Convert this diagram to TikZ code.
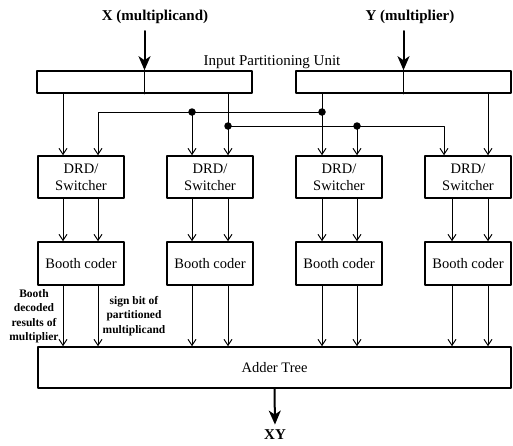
\documentclass[tikz,border=0pt]{standalone}
\usepackage{fontspec}
\setmainfont{Liberation Serif}
\usetikzlibrary{arrows.meta}
\begin{document}
\begin{tikzpicture}[x=1pt,y=-1pt,line cap=round,line join=round,
  blk/.style={draw,line width=1.6pt,inner sep=0pt,align=center,font=\fontsize{14.5}{17}\selectfont},
  conn/.style={line width=1pt,-{Straight Barb[length=6pt,width=8pt]}},
  wire/.style={line width=1pt},
  big/.style={line width=2pt,-{Stealth[length=14pt,width=12pt,inset=4pt]}},
  dot/.style={circle,fill,inner sep=0pt,minimum size=7.5pt},
  note/.style={align=center,font=\bfseries\fontsize{11.5}{14.5}\selectfont}]
  \useasboundingbox (0,0) rectangle (513,445);
  \node[font=\bfseries\fontsize{15}{18}\selectfont] (xin) at (155,17) {X (multiplicand)};
  \node[font=\bfseries\fontsize{15}{18}\selectfont] (yin) at (410,17) {Y (multiplier)};
  \node[font=\fontsize{15}{18}\selectfont] (ipu) at (272,62) {Input Partitioning Unit};
  \node[blk,minimum width=215pt,minimum height=22pt] (xreg) at (144.5,82) {};
  \node[blk,minimum width=215pt,minimum height=22pt] (yreg) at (403.5,82) {};
  \draw[wire] (xreg.north) -- (xreg.south);
  \draw[wire] (yreg.north) -- (yreg.south);
  \coordinate (xs) at (144.5,31);
  \coordinate (ys) at (403.5,31);
  \draw[big] (xs) -- (xreg.north);
  \draw[big] (ys) -- (yreg.north);
  \foreach \i/\cx/\xl/\xr in {1/81/63/98,2/210/192/228,3/339/322/357,4/468/452/488} {
    \node[blk,minimum width=86pt,minimum height=42pt] (drd\i) at (\cx,177) {DRD/\\Switcher};
    \node[blk,minimum width=86pt,minimum height=43pt] (booth\i) at (\cx,263.5) {Booth coder};
    \coordinate (cl\i) at (\xl,0);
    \coordinate (cr\i) at (\xr,0);
  }
  \node[blk,minimum width=473pt,minimum height=41pt] (adder) at (274.5,367.5) {Adder Tree};
  \foreach \i in {1,2,3,4} {
    \draw[conn] (drd\i.south -| cl\i) -- (booth\i.north -| cl\i);
    \draw[conn] (drd\i.south -| cr\i) -- (booth\i.north -| cr\i);
    \draw[conn] (booth\i.south -| cl\i) -- (adder.north -| cl\i);
    \draw[conn] (booth\i.south -| cr\i) -- (adder.north -| cr\i);
  }
  \coordinate (t4) at (444,0);
  \draw[conn] (xreg.south -| cl1) -- (drd1.north -| cl1);
  \draw[conn] (xreg.south -| cr2) -- (drd2.north -| cr2);
  \draw[conn] (yreg.south -| cl3) -- (drd3.north -| cl3);
  \draw[conn] (yreg.south -| cr4) -- (drd4.north -| cr4);
  \node[dot] (ja) at (322,112) {};
  \node[dot] (jb) at (192,112) {};
  \node[dot] (jc) at (228,126) {};
  \node[dot] (jd) at (357,126) {};
  \draw[conn] (ja.center) -| (drd1.north -| cr1);
  \draw[conn] (jb.center) -- (drd2.north -| jb);
  \draw[conn] (jc.center) -| (drd4.north -| t4);
  \draw[conn] (jd.center) -- (drd3.north -| jd);
  \node[note] (lbl1) at (34,316) {Booth\\decoded\\results of\\multiplier};
  \node[note] (lbl2) at (134,316) {sign bit of\\partitioned\\multiplicand};
  \node[font=\bfseries\fontsize{15}{18}\selectfont] (xy) at (275,435) {XY};
  \draw[big,shorten >=2pt] (adder.south) -- (xy.north);
\end{tikzpicture}
\end{document}
